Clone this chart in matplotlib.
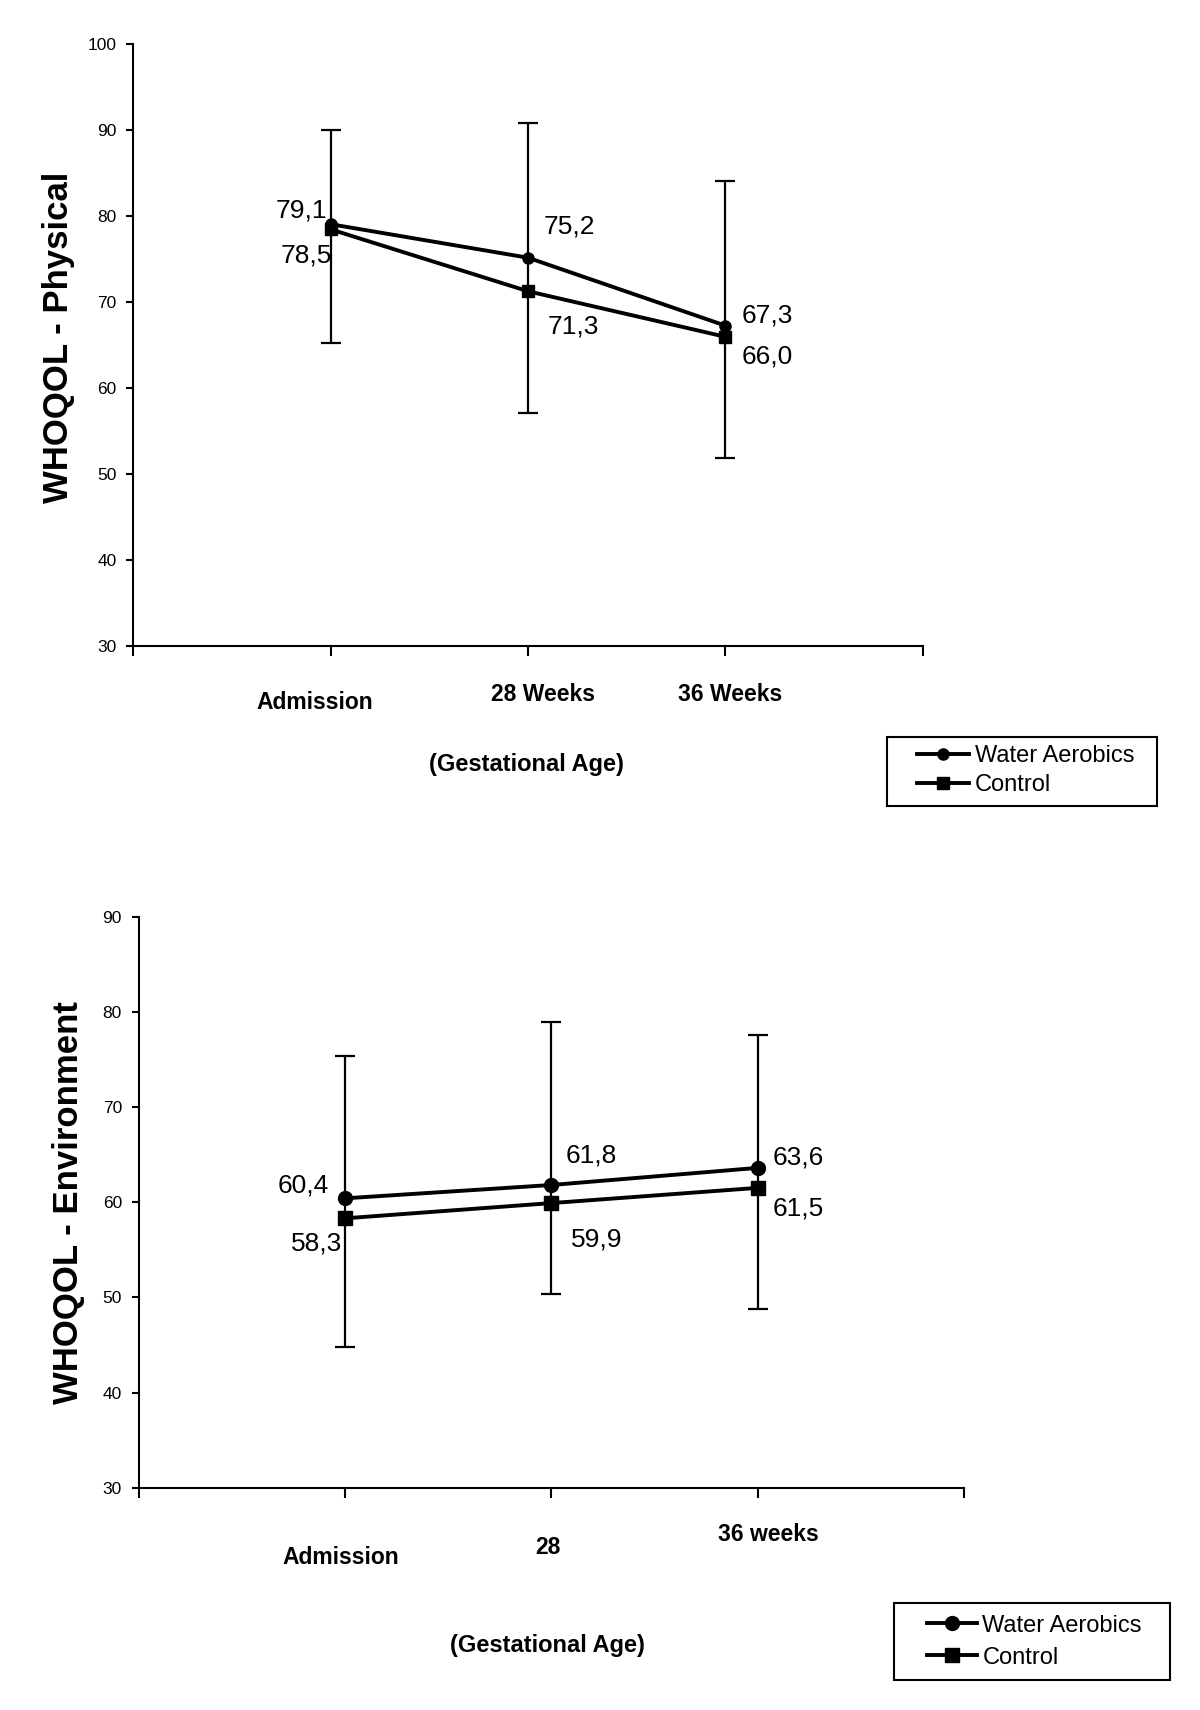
import numpy as np
import matplotlib
matplotlib.use('Agg')
import matplotlib.pyplot as plt
from matplotlib.patches import Rectangle

plt.rcParams['font.family'] = ['Liberation Sans', 'DejaVu Sans']

# ---- data ----
phys_labels = ['Admission', '28 Weeks', '36 Weeks']
phys_water = [79.1, 75.2, 67.3]
phys_control = [78.5, 71.3, 66.0]
phys_err_low = [65.3, 57.1, 51.9]
phys_err_high = [90.1, 90.9, 84.1]

env_labels = ['Admission', '28', '36 weeks']
env_water = [60.4, 61.8, 63.6]
env_control = [58.3, 59.9, 61.5]
env_err_low = [44.8, 50.4, 48.8]
env_err_high = [75.3, 78.9, 77.6]

fig = plt.figure(figsize=(12, 17.1), dpi=100)

ax1 = fig.add_axes([0.111, 0.622, 0.658, 0.352])
ax2 = fig.add_axes([0.1155, 0.130, 0.688, 0.334])

panels = [
    dict(ax=ax1, labels=phys_labels, water=phys_water, control=phys_control,
         lo=phys_err_low, hi=phys_err_high, ylim=(30, 100), ms=8,
         ylabel='WHOQOL - Physical', ylab_xy=(-0.094, 0.513),
         tick_off=[(-16, -56), (15, -48), (5, -48)],
         water_off=[(-3, 14), (16, 31), (16, 10)],
         control_off=[(1, -26), (20, -35), (16, -20)],
         xlab_xy=(0.439, 0.553),
         box=(0.739, 0.5287, 0.2255, 0.0404), leg_xy=(0.764, 0.5494),
         hlen=2.2, lspace=0.3),
    dict(ax=ax2, labels=env_labels, water=env_water, control=env_control,
         lo=env_err_low, hi=env_err_high, ylim=(30, 90), ms=10,
         ylabel='WHOQOL - Environment', ylab_xy=(-0.0854, 0.5),
         tick_off=[(-4, -70), (-3, -60), (11, -47)],
         water_off=[(-16, 13), (14, 29), (15, 10)],
         control_off=[(-3, -25), (20, -36), (15, -21)],
         xlab_xy=(0.456, 0.038),
         box=(0.7454, 0.0175, 0.230, 0.0453), leg_xy=(0.7725, 0.040),
         hlen=2.1, lspace=0.42),
]

x = np.arange(1, 4)
ha_water = ['right', 'left', 'left']
ha_control = ['right', 'left', 'left']

for p in panels:
    ax = p['ax']
    lo = np.array(p['lo'])
    hi = np.array(p['hi'])
    mid = (lo + hi) / 2
    ax.errorbar(x, mid, yerr=[mid - lo, hi - mid], fmt='none', ecolor='black',
                elinewidth=1.6, capsize=7, capthick=1.6, zorder=2)
    lw, = ax.plot(x, p['water'], color='black', lw=2.8, marker='o', ms=p['ms'],
                  label='Water Aerobics', zorder=3)
    lc, = ax.plot(x, p['control'], color='black', lw=2.8, marker='s', ms=p['ms'],
                  label='Control', zorder=3)

    for i in range(3):
        ax.annotate(f"{p['water'][i]:.1f}".replace('.', ','), xy=(x[i], p['water'][i]),
                    xytext=p['water_off'][i], textcoords='offset pixels',
                    ha=ha_water[i], va='center', fontsize=19)
        ax.annotate(f"{p['control'][i]:.1f}".replace('.', ','), xy=(x[i], p['control'][i]),
                    xytext=p['control_off'][i], textcoords='offset pixels',
                    ha=ha_control[i], va='center', fontsize=19)
        ax.annotate(p['labels'][i], xy=(x[i], 0), xycoords=ax.get_xaxis_transform(),
                    xytext=p['tick_off'][i], textcoords='offset pixels',
                    ha='center', va='center', fontsize=16.5, fontweight='bold')

    ax.set_xlim(0, 4)
    ax.set_ylim(*p['ylim'])
    ax.set_xticks([0, 1, 2, 3, 4])
    ax.set_xticklabels([])
    ax.set_yticks(np.arange(p['ylim'][0], p['ylim'][1] + 1, 10))
    ax.tick_params(axis='y', labelsize=12.5, length=5, width=1.5, direction='out', pad=7)
    ax.tick_params(axis='x', length=7, width=1.5, direction='out')
    for s in ['top', 'right']:
        ax.spines[s].set_visible(False)
    for s in ['left', 'bottom']:
        ax.spines[s].set_linewidth(1.5)
    ax.set_ylabel(p['ylabel'], fontsize=25, fontweight='bold')
    ax.yaxis.label.set_verticalalignment('center')
    ax.yaxis.set_label_coords(*p['ylab_xy'])

    fig.text(p['xlab_xy'][0], p['xlab_xy'][1], '(Gestational Age)', ha='center',
             va='center', fontsize=17, fontweight='bold')

    fig.patches.append(Rectangle(p['box'][:2], p['box'][2], p['box'][3],
                                 transform=fig.transFigure, fill=False,
                                 edgecolor='black', lw=1.5))
    fig.legend(handles=[lw, lc], loc='center left', bbox_to_anchor=p['leg_xy'],
               fontsize=17, handlelength=p['hlen'], handletextpad=0.25,
               frameon=False, borderpad=0, borderaxespad=0,
               labelspacing=p['lspace'])

plt.savefig('out.png', dpi=100)
